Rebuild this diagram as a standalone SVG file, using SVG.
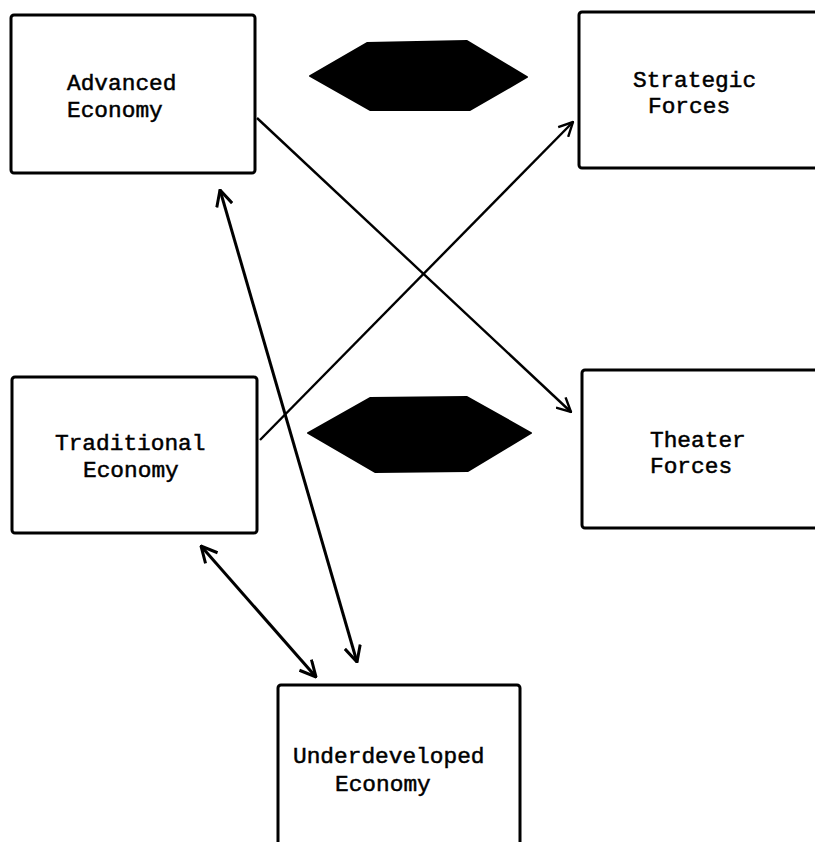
<svg xmlns="http://www.w3.org/2000/svg" width="815" height="842" viewBox="0 0 815 842">
<style>
.box{fill:#fff;stroke:#000;stroke-width:3}
.lbl{font-family:"Liberation Mono","DejaVu Sans Mono",monospace;font-size:22.8px;fill:#000;stroke:#000;stroke-width:0.5}
.con{fill:none;stroke:#000;stroke-width:2.4}
.con2{fill:none;stroke:#000;stroke-width:3}
.fat{fill:#000;stroke:#000;stroke-width:2;stroke-linejoin:round}
</style>
<defs>
<marker id="arr" viewBox="0 0 16 16" markerWidth="16" markerHeight="16" refX="15" refY="8" orient="auto-start-reverse" markerUnits="userSpaceOnUse">
<path d="M1,1 L15,8 L1,15" fill="none" stroke="#000" stroke-width="2.4"/>
</marker>
<marker id="arr2" viewBox="0 0 18 18" markerWidth="18" markerHeight="18" refX="17" refY="9" orient="auto-start-reverse" markerUnits="userSpaceOnUse">
<path d="M1,1 L17,9 L1,17" fill="none" stroke="#000" stroke-width="3"/>
</marker>
</defs>
<rect width="815" height="842" fill="#fff"/>
<g id="advanced-economy">
<rect class="box" x="11" y="15" width="244" height="158" rx="3"/>
<text class="lbl" x="67" y="90">Advanced</text>
<text class="lbl" x="67" y="117">Economy</text>
</g>
<g id="strategic-forces">
<rect class="box" x="579" y="12" width="250" height="156" rx="3"/>
<text class="lbl" x="633" y="87">Strategic</text>
<text class="lbl" x="648" y="113">Forces</text>
</g>
<g id="traditional-economy">
<rect class="box" x="12" y="377" width="245" height="156" rx="3"/>
<text class="lbl" x="55" y="450">Traditional</text>
<text class="lbl" x="83" y="477">Economy</text>
</g>
<g id="theater-forces">
<rect class="box" x="582" y="370" width="250" height="158" rx="3"/>
<text class="lbl" x="650" y="447">Theater</text>
<text class="lbl" x="650" y="473">Forces</text>
</g>
<g id="underdeveloped-economy">
<rect class="box" x="278" y="685" width="242" height="170" rx="3"/>
<text class="lbl" x="293" y="763">Underdeveloped</text>
<text class="lbl" x="335" y="791">Economy</text>
</g>
<g id="connectors">
<path class="fat" d="M310,76 L367,43 L467,41 L527,77 L470,110 L370,110 Z"/>
<path class="fat" d="M308,433 L370,398 L467,397 L531,433 L468,471 L375,472 Z"/>
<line class="con" x1="257" y1="118" x2="571" y2="412" marker-end="url(#arr)"/>
<line class="con" x1="260" y1="440" x2="573" y2="122" marker-end="url(#arr)"/>
<line class="con2" x1="220" y1="190" x2="357" y2="662" marker-start="url(#arr2)" marker-end="url(#arr2)"/>
<line class="con2" x1="201" y1="546" x2="316" y2="677" marker-start="url(#arr2)" marker-end="url(#arr2)"/>
</g>
</svg>
